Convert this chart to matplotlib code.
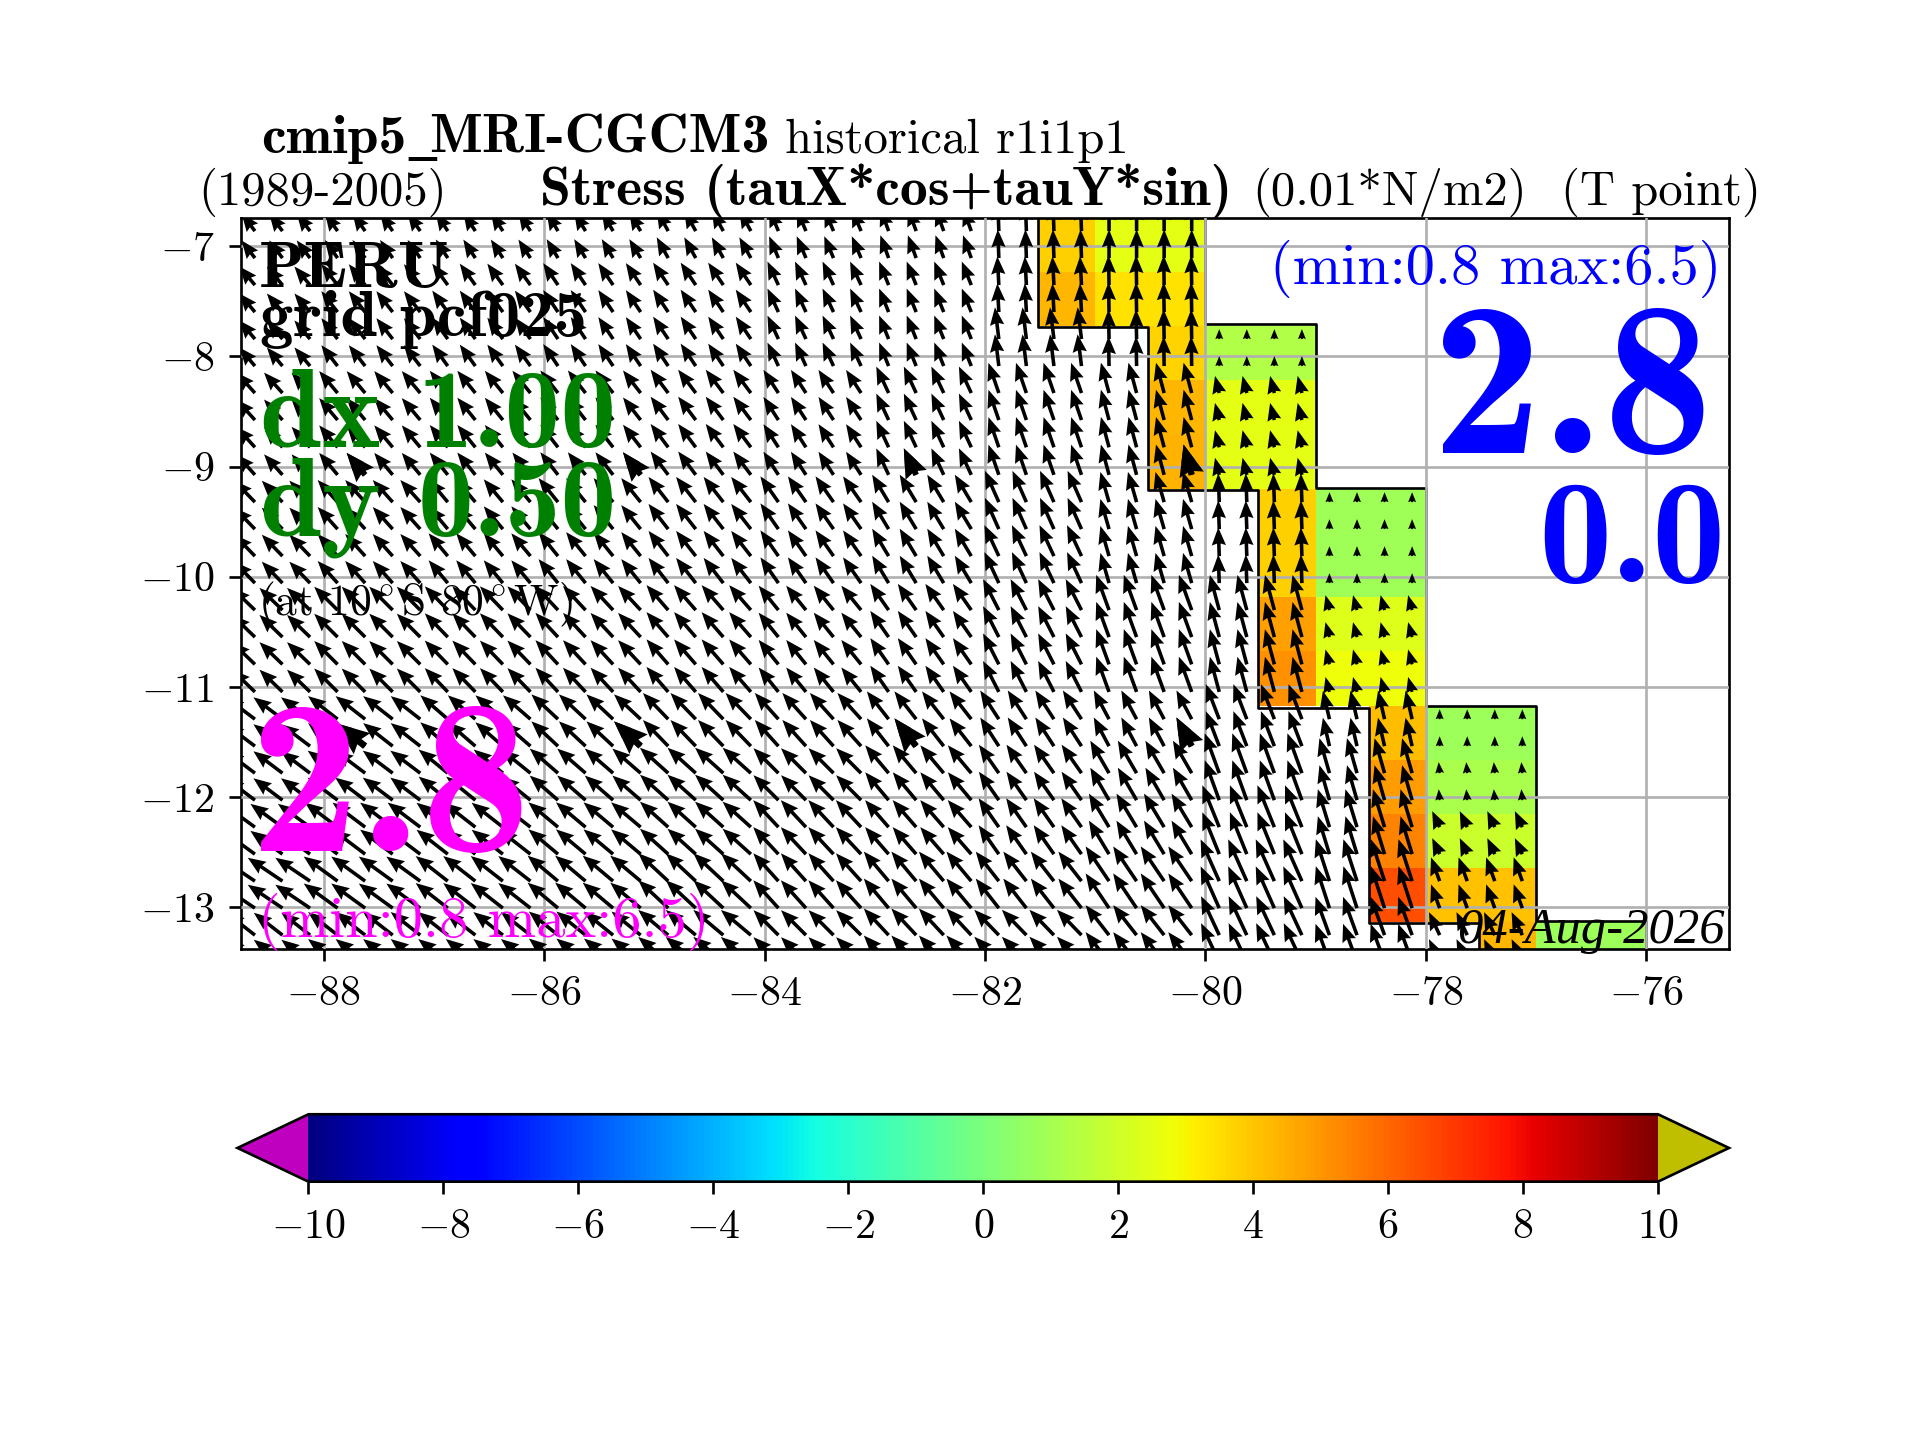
import matplotlib
matplotlib.use("Agg")
import matplotlib.pyplot as plt
import numpy as np

plt.rcParams["font.family"] = ["cmr10", "DejaVu Serif"]
plt.rcParams["mathtext.fontset"] = "cm"
plt.rcParams["axes.formatter.use_mathtext"] = True
plt.rcParams["axes.unicode_minus"] = True

# coarse cells of the stress field
lon_edges = [-89, -88, -87, -86, -85, -84, -83, -82, -81, -80, -79, -78, -77, -76]
lat_edges = [-6.74, -7.23, -7.72, -8.21, -8.70, -9.20, -9.69, -10.18, -10.67, -11.17,
             -11.66, -12.15, -12.64, -13.13, -13.62]

N = None
# direction, degrees west of north, one row per latitude band
arrow_angle = [
    [37, 35, 33, 31, 29, 23, 20, 2, 0, N, N, N, N],
    [40, 38, 36, 34, 34, 25, 22, 3, 1, N, N, N, N],
    [40, 38, 36, 34, 34, 25, 22, 7, 1, 0, N, N, N],
    [42, 40, 39, 38, 37, 33, 25, 19, 15, 14, N, N, N],
    [42, 40, 39, 38, 37, 33, 25, 19, 15, 14, N, N, N],
    [44, 42, 40, 39, 38, 35, 31, 24, 16, 2, 0, N, N],
    [44, 42, 40, 39, 38, 35, 31, 25, 16, 2, 0, N, N],
    [46, 45, 44, 43, 41, 39, 35, 27, 20, 15, 15, N, N],
    [46, 45, 44, 43, 41, 39, 35, 27, 20, 15, 15, N, N],
    [53, 52, 49, 47, 44, 42, 38, 33, 28, 21, 13, 0, N],
    [53, 53, 51, 49, 48, 45, 40, 35, 30, 20, 16, 5, N],
    [54, 53, 52, 50, 48, 43, 41, 35, 31, 22, 17, 25, N],
    [56, 54, 52, 50, 47, 42, 40, 38, 34, 24, 18, 20, N],
    [52, 52, 52, 51, 50, 45, 43, 44, 38, 25, 20, 25, N],
]
# arrow length in hundredths of a degree
arrow_size = [
    [20, 20, 20, 20, 21.5, 21.5, 22, 26, 26, N, N, N, N],
    [22, 24, 24, 24, 24.5, 23.5, 23, 26, 27, N, N, N, N],
    [22, 24, 24, 24, 24.5, 23.5, 23, 29, 27, 9, N, N, N],
    [25, 26, 26, 26, 26.5, 25, 26.5, 29, 28.5, 16, N, N, N],
    [25, 26, 26, 26, 26.5, 25, 26.5, 29, 28.5, 16, N, N, N],
    [27, 27, 27, 28, 29, 28.5, 29, 31, 28.5, 26, 9, N, N],
    [27, 27, 27, 28, 29, 28.5, 29, 31, 28.5, 26, 9, N, N],
    [29, 30, 30, 30, 30, 28.5, 29, 31.5, 34, 33, 14, N, N],
    [29, 30, 30, 30, 30, 28.5, 29, 31.5, 34, 33, 14, N, N],
    [33, 34, 33, 33, 33, 32, 32, 31, 29.5, 34, 26.5, 9, N],
    [33, 34, 34, 34, 34.5, 32, 33, 31.5, 34, 38.5, 33, 10, N],
    [36, 37, 36, 35, 34.5, 33.5, 32.5, 32, 35.5, 41, 36, 16, N],
    [38, 38, 37, 36, 37, 34, 35, 34, 38, 41.5, 40, 23, N],
    [33, 34, 34, 34, 35.5, 32, 33, 32, 34.5, 39, 37, 23, N],
]

# stress on the coastal strip, two cells per step of the staircase
step_lons = [[-81.52, -81, -80], [-80.52, -80, -79], [-79.52, -79, -78], [-78.52, -78, -77], [-77.52, -77, -76]]
step_lats = [
    [-6.74, -7.23, -7.72],
    [-7.72, -8.21, -8.70, -9.20],
    [-9.20, -9.69, -10.18, -10.67, -11.17],
    [-11.17, -11.66, -12.15, -12.64, -13.13],
    [-13.13, -13.62],
]
step_values = [
    [[3.8, 2.5], [4.3, 3.4]],
    [[3.7, 1.3], [4.3, 2.5], [4.4, 2.5]],
    [[3.8, 0.9], [3.8, 0.9], [4.8, 2.4], [5.1, 2.8]],
    [[4.2, 0.85], [4.9, 1.1], [5.4, 1.9], [6.5, 4.1]],
    [[4.3, 0.85]],
]

# outline of the strip
coast_west_lon = [-81.52, -81.52, -80.52, -80.52, -79.52, -79.52, -78.52, -78.52, -77.52, -77.52]
coast_west_lat = [-6.74, -7.73, -7.73, -9.21, -9.21, -11.19, -11.19, -13.14, -13.14, -13.62]
coast_east_lon = [-80, -80, -79, -79, -78, -78, -77, -77, -76, -76]
coast_east_lat = [-6.74, -7.71, -7.71, -9.19, -9.19, -11.17, -11.17, -13.12, -13.12, -13.62]

# arrows drawn heavy
heavy_lons = [-87.625, -85.125, -82.625, -80.125]
heavy_row_index = [9, 19]

x_ticks = [-88, -86, -84, -82, -80, -78, -76]
y_ticks = [-13, -12, -11, -10, -9, -8, -7]
cbar_ticks = [-10, -8, -6, -4, -2, 0, 2, 4, 6, 8, 10]


def build_arrows():
    xs, ys, us, vs, rows = [], [], [], [], []
    for j in range(len(lat_edges) - 1):
        for k in range(2):
            lat = lat_edges[j] + (lat_edges[j + 1] - lat_edges[j]) * (0.25 + 0.5 * k)
            for i in range(len(lon_edges) - 1):
                if arrow_angle[j][i] is None:
                    continue
                a = np.radians(arrow_angle[j][i])
                for m in range(4):
                    xs.append(lon_edges[i] + 0.125 + 0.25 * m)
                    ys.append(lat)
                    us.append(-arrow_size[j][i] * np.sin(a) / 100)
                    vs.append(arrow_size[j][i] * np.cos(a) / 100)
                    rows.append(2 * j + k)
    return np.array(xs), np.array(ys), np.array(us), np.array(vs), np.array(rows)


def main():
    fig = plt.figure(figsize=(8, 6), dpi=240)
    ax = fig.add_axes([0.1256, 0.341, 0.7749, 0.5076])

    cmap = plt.get_cmap("jet").copy()
    cmap.set_under((0.75, 0, 0.75))
    cmap.set_over((0.75, 0.75, 0))

    mesh = None
    for lons, lats, vals in zip(step_lons, step_lats, step_values):
        mesh = ax.pcolormesh(lons, lats, vals, cmap=cmap, vmin=-10, vmax=10, zorder=1)

    ax.plot(coast_west_lon, coast_west_lat, color="k", lw=0.8, zorder=2)
    ax.plot(coast_east_lon, coast_east_lat, color="k", lw=0.8, zorder=2)

    x, y, u, v, rows = build_arrows()
    ax.quiver(x, y, u, v, angles="xy", scale_units="xy", scale=1, pivot="tail",
              width=0.0024, headwidth=4, headlength=5, headaxislength=4.5, color="k", zorder=3)
    keep = np.isin(rows, heavy_row_index) & np.isin(x, heavy_lons)
    ax.quiver(x[keep], y[keep], u[keep], v[keep], angles="xy", scale_units="xy", scale=1,
              pivot="tail", width=0.0045, headwidth=4, headlength=5, headaxislength=4.5, color="k", zorder=3)

    ax.set_xlim(-88.75, -75.25)
    ax.set_ylim(-13.378, -6.744)
    ax.set_xticks(x_ticks)
    ax.set_yticks(y_ticks)
    ax.tick_params(labelsize=12.6, pad=4.5)
    ax.grid(True, zorder=4)
    ax.set_axisbelow(False)

    t = ax.transAxes
    ax.text(0.0115, 0.905, "PERU", transform=t, fontsize=20, family="cmb10", va="baseline", zorder=5)
    ax.text(0.0125, 0.839, "grid pcf025", transform=t, fontsize=20, family="cmb10", va="baseline", zorder=5)
    ax.text(0.0125, 0.687, "dx 1.00", transform=t, fontsize=33.5, family="cmb10", color="green", va="baseline", zorder=5)
    ax.text(0.0125, 0.566, "dy 0.50", transform=t, fontsize=33.5, family="cmb10", color="green", va="baseline", zorder=5)
    ax.text(0.0115, 0.457, r"(at 10$^\circ$S 80$^\circ$W)", transform=t, fontsize=13, va="baseline", zorder=5)
    ax.text(0.006, 0.134, "2.8", transform=t, fontsize=66, family="cmb10", color="magenta", va="baseline", zorder=5)
    ax.text(0.011, 0.017, "(min:0.8 max:6.5)", transform=t, fontsize=17.5, color="magenta", va="baseline", zorder=5)
    ax.text(0.995, 0.91, "(min:0.8 max:6.5)", transform=t, fontsize=17.5, color="blue", ha="right", va="baseline", zorder=5)
    ax.text(0.9895, 0.678, "2.8", transform=t, fontsize=66, family="cmb10", color="blue", ha="right", va="baseline", zorder=5)
    ax.text(0.9975, 0.5025, "0.0", transform=t, fontsize=44, family="cmb10", color="blue", ha="right", va="baseline", zorder=5)
    ax.text(0.997, 0.008, "04-Aug-2026", transform=t, fontsize=15.2, family="Liberation Serif",
            style="italic", ha="right", va="baseline", zorder=5)

    ax.text(0.0132, 1.089, "cmip5", transform=t, fontsize=16.7, family="cmb10", va="baseline")
    ax.text(0.1125, 1.089, "_", transform=t, fontsize=16.7, family="Liberation Serif", weight="bold", va="baseline")
    ax.text(0.1262, 1.089, "MRI-CGCM3", transform=t, fontsize=16.7, family="cmb10", va="baseline")
    ax.text(0.3654, 1.089, "historical r1i1p1", transform=t, fontsize=14.6, va="baseline")
    ax.text(-0.0288, 1.0184, "(1989-2005)", transform=t, fontsize=14.6, va="baseline")
    ax.text(0.2008, 1.0184, "Stress (tauX*cos+tauY*sin)", transform=t, fontsize=16.7, family="cmb10", va="baseline")
    ax.text(0.6795, 1.0184, "(0.01*N/m2)", transform=t, fontsize=14.6, va="baseline")
    ax.text(0.887, 1.0184, "(T point)", transform=t, fontsize=14.6, va="baseline")

    cax = fig.add_axes([0.1237, 0.1794, 0.7768, 0.0468])
    cbar = fig.colorbar(mesh, cax=cax, orientation="horizontal", extend="both", extendfrac=0.0526)
    cbar.set_ticks(cbar_ticks)
    cax.tick_params(labelsize=12.6, pad=4.5)

    fig.savefig("out.png", dpi=240)


if __name__ == "__main__":
    main()
